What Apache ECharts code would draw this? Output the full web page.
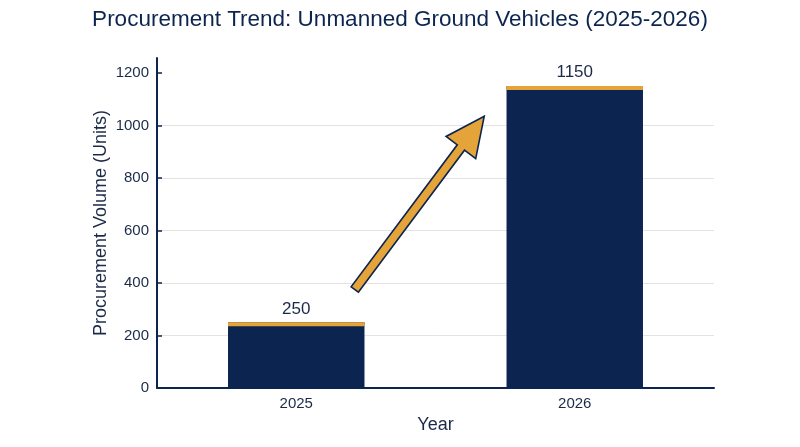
<!DOCTYPE html>
<html>
<head>
<meta charset="utf-8">
<script src="https://cdn.jsdelivr.net/npm/echarts@6/dist/echarts.min.js"></script>
<style>html,body{margin:0;padding:0;background:#fff}#main{width:800px;height:447px}</style>
</head>
<body>
<div id="main"></div>
<script>
const years = ['2025', '2026'];
const volumes = [250, 1150];
const yTicks = [0, 200, 400, 600, 800, 1000, 1200];
// arrow annotation: [fractional category position, value]
const arrowStart = [0.21, 375];
const arrowEnd = [0.675, 1035];

const NAVY = '#0c2550';
const GOLD = '#e5a43a';
const TEXT = '#1b2a48';
const BAR_RATIO = 0.49;

const chart = echarts.init(document.getElementById('main'));
chart.setOption({
  animation: false,
  backgroundColor: '#ffffff',
  textStyle: { fontFamily: 'Liberation Sans, Arial, sans-serif' },
  title: {
    text: 'Procurement Trend: Unmanned Ground Vehicles (2025-2026)',
    left: 'center', top: 3,
    textStyle: { color: NAVY, fontSize: 22.5, fontWeight: 'normal', fontFamily: 'Liberation Sans, Arial, sans-serif' }
  },
  grid: { left: 157, right: 86, top: 58, bottom: 59 },
  xAxis: {
    type: 'category',
    data: years,
    name: 'Year', nameLocation: 'middle', nameGap: 28,
    nameTextStyle: { color: TEXT, fontSize: 18 },
    axisLine: { lineStyle: { color: NAVY, width: 2 } },
    axisTick: { alignWithLabel: true, length: 5, lineStyle: { color: NAVY, width: 1.5 } },
    axisLabel: { color: TEXT, fontSize: 15, margin: 8 },
    splitLine: { show: false }
  },
  yAxis: {
    type: 'value',
    min: 0, max: 1257,
    name: 'Procurement Volume (Units)', nameLocation: 'middle', nameGap: 47,
    nameMoveOverlap: false,
    nameTextStyle: { color: TEXT, fontSize: 18 },
    axisLine: { show: true, lineStyle: { color: NAVY, width: 2 } },
    axisTick: { show: true, inside: true, length: 5, customValues: yTicks, lineStyle: { color: NAVY, width: 1.5 } },
    axisLabel: { color: TEXT, fontSize: 15, margin: 8, customValues: yTicks, formatter: (v) => String(v) },
    splitLine: { show: true, showMaxLine: false, showMinLine: false, lineStyle: { color: '#e3e3e3', width: 1 } }
  },
  series: [
    {
      type: 'bar',
      data: volumes,
      barWidth: (BAR_RATIO * 100) + '%',
      itemStyle: { color: NAVY },
      label: { show: true, position: 'top', distance: 5, color: TEXT, fontSize: 17 },
      z: 2
    },
    {
      type: 'custom',
      data: years.map((y, i) => [i, volumes[i]]),
      renderItem: function (params, api) {
        const top = api.coord([api.value(0), api.value(1)]);
        const w = api.size([1, 0])[0] * BAR_RATIO;
        return { type: 'rect', shape: { x: top[0] - w / 2, y: top[1], width: w, height: 4 }, style: { fill: GOLD } };
      },
      z: 3
    }
  ]
});

function drawArrow() {
  const c0 = chart.convertToPixel({ gridIndex: 0 }, [0, 0]);
  const c1 = chart.convertToPixel({ gridIndex: 0 }, [1, 0]);
  const toPx = (p) => {
    const y = chart.convertToPixel({ gridIndex: 0 }, [0, p[1]])[1];
    return [c0[0] + p[0] * (c1[0] - c0[0]), y];
  };
  const a = toPx(arrowStart), b = toPx(arrowEnd);
  const dx = b[0] - a[0], dy = b[1] - a[1];
  const L = Math.sqrt(dx * dx + dy * dy);
  const ux = dx / L, uy = dy / L, nx = -uy, ny = ux;
  const sw = 4.5, hw = 18.5, hl = 39;
  const bx = b[0] - ux * hl, by = b[1] - uy * hl;
  const pts = [
    [a[0] + nx * sw, a[1] + ny * sw],
    [bx + nx * sw, by + ny * sw],
    [bx + nx * hw, by + ny * hw],
    [b[0], b[1]],
    [bx - nx * hw, by - ny * hw],
    [bx - nx * sw, by - ny * sw],
    [a[0] - nx * sw, a[1] - ny * sw]
  ];
  chart.setOption({
    graphic: [{
      type: 'polygon', z: 100,
      shape: { points: pts },
      style: { fill: GOLD, stroke: NAVY, lineWidth: 1.6, lineJoin: 'miter' }
    }]
  });
}
drawArrow();
</script>
</body>
</html>
